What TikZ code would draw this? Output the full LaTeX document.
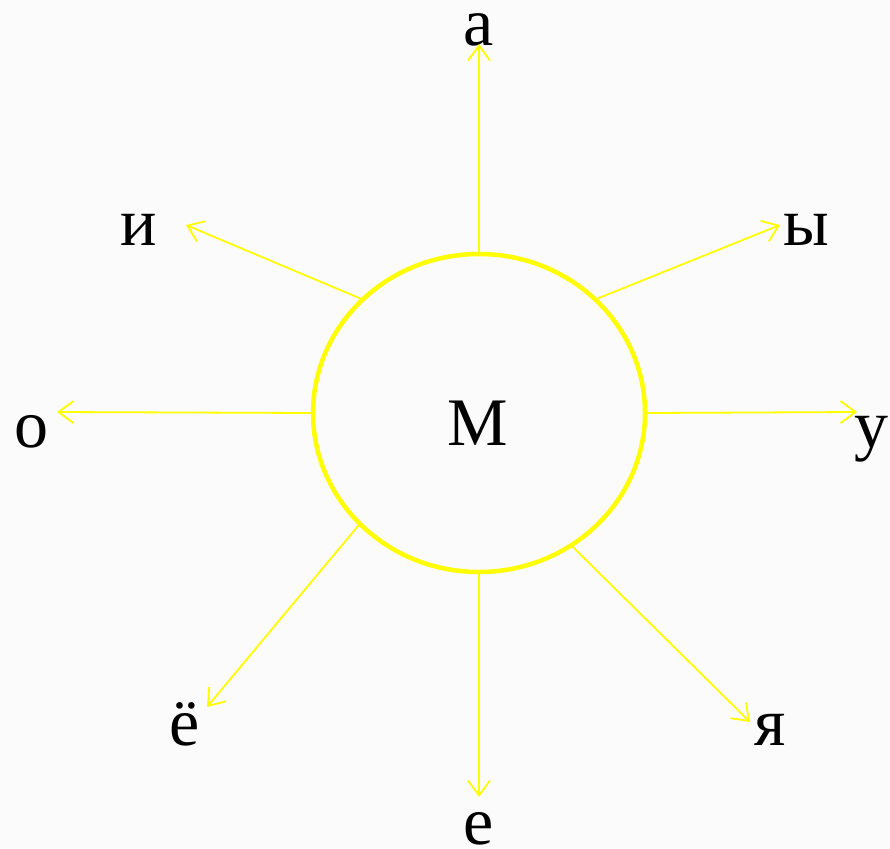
\documentclass[tikz,border=0pt]{standalone}
\usepackage{fontspec}
\setmainfont{Liberation Serif}
\usepackage{tikz}
\usetikzlibrary{arrows.meta}
\usetikzlibrary{shapes.geometric}
\definecolor{paper}{RGB}{251,251,251}
\definecolor{sunyellow}{RGB}{255,255,0}

\begin{document}
\begin{tikzpicture}[x=1pt,y=-1pt,->,>={Straight Barb[length=15pt,width=22pt]},
		line width=1.8pt,draw=sunyellow,
		letter/.style={anchor=base,inner sep=0pt,font=\fontsize{68}{80}\selectfont},
		sun/.style={ellipse,draw=sunyellow,line width=4.5pt,minimum width=332pt,minimum height=318pt,inner sep=0pt}]

	\fill[paper] (0,0) rectangle (890,848);
	\useasboundingbox (0,0) rectangle (890,848);

	\node[sun] (ring) at (479,413) {};
	\node[letter] (M) at (478,445) {М};

	% letters round the ring
	\node[letter] (a) at (479,46) {а};
	\node[letter] (i) at (139,245) {и};
	\node[letter] (y) at (806,245) {ы};
	\node[letter] (o) at (31,447) {о};
	\node[letter] (u) at (871,447) {у};
	\node[letter] (yo) at (185,745) {ё};
	\node[letter] (e) at (479,844) {е};
	\node[letter] (ya) at (770,745) {я};

	% arrow tips
	\coordinate (ta) at (479,44);
	\coordinate (ti) at (186,225);
	\coordinate (ty) at (780,225);
	\coordinate (to) at (57,412);
	\coordinate (tu) at (857,412);
	\coordinate (tyo) at (207,707);
	\coordinate (te) at (479,797);
	\coordinate (tya) at (750,722);

	\path
	(ring.north) edge (ta)
	(ring.136.5) edge (ti)
	(ring.44) edge (ty)
	(ring.west) edge (to)
	(ring.east) edge (tu)
	(ring.223.8) edge (tyo)
	(ring.south) edge (te)
	(ring.305.5) edge (tya);

\end{tikzpicture}
\end{document}
